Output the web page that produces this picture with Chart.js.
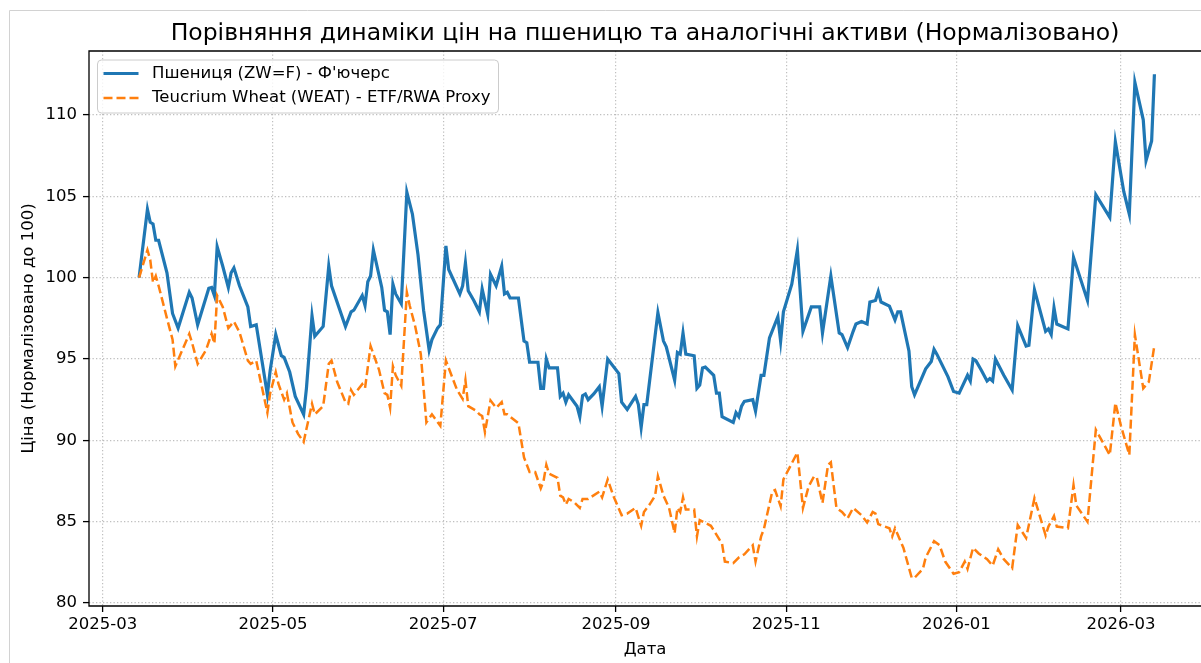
<!DOCTYPE html>
<html>
<head>
<meta charset="utf-8">
<title>Пшениця vs WEAT</title>
<script src="https://cdn.jsdelivr.net/npm/chart.js@4.4.0/dist/chart.umd.min.js"></script>
<style>
  html, body { margin: 0; padding: 0; background: #fff; overflow: hidden; }
  canvas { display: block; }
</style>
</head>
<body>
<canvas id="chart" width="1201" height="663"></canvas>
<script>
// wheat futures (ZW=F), normalised to 100
var wheatDates = [
  '2025-03-14','2025-03-17','2025-03-18','2025-03-19','2025-03-20','2025-03-21','2025-03-24','2025-03-26','2025-03-28',
  '2025-04-01','2025-04-02','2025-04-04','2025-04-08','2025-04-09','2025-04-10','2025-04-11','2025-04-13','2025-04-15',
  '2025-04-16','2025-04-17','2025-04-19','2025-04-22','2025-04-23','2025-04-25','2025-04-29','2025-04-30',
  '2025-05-02','2025-05-04','2025-05-05','2025-05-07','2025-05-09','2025-05-12','2025-05-13','2025-05-15','2025-05-16',
  '2025-05-19','2025-05-21','2025-05-22','2025-05-27','2025-05-29','2025-05-30',
  '2025-06-02','2025-06-03','2025-06-04','2025-06-05','2025-06-06','2025-06-09','2025-06-10','2025-06-11','2025-06-12',
  '2025-06-13','2025-06-14','2025-06-16','2025-06-18','2025-06-20','2025-06-22','2025-06-24','2025-06-26','2025-06-27',
  '2025-06-29','2025-06-30',
  '2025-07-02','2025-07-03','2025-07-07','2025-07-08','2025-07-09','2025-07-10','2025-07-12','2025-07-14','2025-07-15',
  '2025-07-17','2025-07-18','2025-07-20','2025-07-22','2025-07-23','2025-07-24','2025-07-25','2025-07-28','2025-07-30',
  '2025-07-31',
  '2025-08-01','2025-08-04','2025-08-05','2025-08-06','2025-08-07','2025-08-08','2025-08-11','2025-08-12','2025-08-13',
  '2025-08-14','2025-08-15','2025-08-18','2025-08-19','2025-08-20','2025-08-21','2025-08-22','2025-08-24','2025-08-26',
  '2025-08-27','2025-08-29',
  '2025-09-02','2025-09-03','2025-09-05','2025-09-08','2025-09-09','2025-09-10','2025-09-11','2025-09-12','2025-09-16',
  '2025-09-18','2025-09-19','2025-09-22','2025-09-23','2025-09-24','2025-09-25','2025-09-26','2025-09-29','2025-09-30',
  '2025-10-01','2025-10-02','2025-10-03','2025-10-06','2025-10-07','2025-10-08','2025-10-09','2025-10-13','2025-10-14',
  '2025-10-15','2025-10-16','2025-10-17','2025-10-20','2025-10-21','2025-10-23','2025-10-24','2025-10-26','2025-10-29',
  '2025-10-30','2025-10-31',
  '2025-11-03','2025-11-05','2025-11-07','2025-11-10','2025-11-13','2025-11-14','2025-11-17','2025-11-20','2025-11-21',
  '2025-11-23','2025-11-25','2025-11-26','2025-11-28','2025-11-30',
  '2025-12-01','2025-12-03','2025-12-04','2025-12-05','2025-12-08','2025-12-10','2025-12-11','2025-12-12','2025-12-15',
  '2025-12-16','2025-12-17','2025-12-21','2025-12-23','2025-12-24','2025-12-25','2025-12-29','2025-12-31',
  '2026-01-02','2026-01-05','2026-01-06','2026-01-07','2026-01-08','2026-01-10','2026-01-12','2026-01-13','2026-01-14',
  '2026-01-15','2026-01-18','2026-01-21','2026-01-23','2026-01-26','2026-01-27','2026-01-29',
  '2026-02-02','2026-02-03','2026-02-04','2026-02-05','2026-02-06','2026-02-10','2026-02-12','2026-02-17','2026-02-20',
  '2026-02-25','2026-02-27',
  '2026-03-02','2026-03-04','2026-03-06','2026-03-09','2026-03-10','2026-03-12','2026-03-13'
];
var wheatValues = [
  100.0, 104.2, 103.4, 103.3, 102.3, 102.3, 100.3, 97.8, 96.9,
  99.1, 98.75, 97.1, 99.35, 99.4, 98.9, 101.9, 100.7, 99.4,
  100.3, 100.6, 99.5, 98.2, 97.0, 97.1, 92.8, 94.3,
  96.5, 95.2, 95.1, 94.2, 92.7, 91.6, 93.2, 97.65, 96.4,
  97.0, 100.7, 99.5, 97.0, 97.9, 98.0,
  98.9, 98.3, 99.75, 100.1, 101.7, 99.4, 98.0, 97.9, 96.5,
  99.6, 99.0, 98.4, 105.25, 103.9, 101.4, 98.0, 95.55, 96.2,
  96.9, 97.1,
  101.95, 100.5, 99.0, 99.5, 100.9, 99.2, 98.6, 97.9, 99.3,
  97.75, 100.2, 99.5, 100.7, 99.0, 99.1, 98.75, 98.75, 96.1,
  96.0,
  94.8, 94.8, 93.2, 93.2, 95.0, 94.45, 94.45, 92.7, 92.9,
  92.35, 92.8, 92.1, 91.45, 92.75, 92.85, 92.5, 92.85, 93.3,
  92.1, 95.0,
  94.1, 92.35, 91.9, 92.7, 92.2, 90.8, 92.2, 92.2, 97.85,
  96.1, 95.75, 93.7, 95.4, 95.3, 96.6, 95.3, 95.2, 93.2,
  93.4, 94.45, 94.5, 94.0, 92.9, 92.9, 91.45, 91.1, 91.7,
  91.45, 92.1, 92.4, 92.5, 91.8, 94.0, 94.0, 96.3, 97.6,
  96.1, 97.9,
  99.6, 101.7, 96.7, 98.2, 98.2, 96.6, 100.1, 96.6, 96.5,
  95.7, 96.7, 97.15, 97.3, 97.15,
  98.5, 98.6, 99.15, 98.5, 98.25, 97.4, 97.9, 97.9, 95.5,
  93.3, 92.8, 94.4, 94.85, 95.6, 95.3, 93.9, 93.0,
  92.9, 94.0, 93.65, 95.0, 94.9, 94.3, 93.65, 93.8, 93.65,
  95.0, 94.0, 93.1, 97.05, 95.8, 95.85, 99.25,
  96.7, 96.85, 96.5, 98.15, 97.15, 96.85, 101.25, 98.6, 105.1,
  103.7, 108.35,
  105.3, 103.9, 112.0, 109.7, 107.2, 108.4, 112.5
];

// Teucrium Wheat ETF (WEAT), normalised to 100
var weatDates = [
  '2025-03-14','2025-03-17','2025-03-18','2025-03-19','2025-03-20','2025-03-21','2025-03-24','2025-03-26','2025-03-27',
  '2025-04-01','2025-04-02','2025-04-04','2025-04-07','2025-04-09','2025-04-10','2025-04-11','2025-04-13','2025-04-15',
  '2025-04-17','2025-04-19','2025-04-22','2025-04-23','2025-04-25','2025-04-29','2025-04-30',
  '2025-05-02','2025-05-03','2025-05-05','2025-05-06','2025-05-08','2025-05-10','2025-05-12','2025-05-13','2025-05-15',
  '2025-05-16','2025-05-19','2025-05-21','2025-05-22','2025-05-24','2025-05-27','2025-05-28','2025-05-29','2025-05-30',
  '2025-06-02','2025-06-03','2025-06-05','2025-06-08','2025-06-10','2025-06-11','2025-06-12','2025-06-13','2025-06-14',
  '2025-06-16','2025-06-18','2025-06-19','2025-06-21','2025-06-23','2025-06-25','2025-06-27','2025-06-30',
  '2025-07-02','2025-07-03','2025-07-06','2025-07-08','2025-07-09','2025-07-10','2025-07-13','2025-07-14','2025-07-15',
  '2025-07-16','2025-07-18','2025-07-20','2025-07-22','2025-07-23','2025-07-24','2025-07-28','2025-07-30',
  '2025-08-01','2025-08-03','2025-08-05','2025-08-06','2025-08-07','2025-08-08','2025-08-11','2025-08-12','2025-08-13',
  '2025-08-14','2025-08-15','2025-08-17','2025-08-19','2025-08-20','2025-08-22','2025-08-26','2025-08-27','2025-08-29',
  '2025-08-31',
  '2025-09-03','2025-09-05','2025-09-08','2025-09-10','2025-09-11','2025-09-13','2025-09-15','2025-09-16','2025-09-18',
  '2025-09-20','2025-09-22','2025-09-23','2025-09-24','2025-09-25','2025-09-26','2025-09-29','2025-09-30',
  '2025-10-01','2025-10-05','2025-10-09','2025-10-10','2025-10-13','2025-10-15','2025-10-17','2025-10-20','2025-10-21',
  '2025-10-23','2025-10-24','2025-10-27','2025-10-28','2025-10-30','2025-10-31',
  '2025-11-05','2025-11-07','2025-11-09','2025-11-11','2025-11-12','2025-11-14','2025-11-16','2025-11-17','2025-11-19',
  '2025-11-21','2025-11-23','2025-11-25','2025-11-28','2025-11-30',
  '2025-12-02','2025-12-03','2025-12-04','2025-12-08','2025-12-09','2025-12-10','2025-12-13','2025-12-16','2025-12-17',
  '2025-12-20','2025-12-21','2025-12-24','2025-12-26','2025-12-28','2025-12-31',
  '2026-01-02','2026-01-04','2026-01-05','2026-01-07','2026-01-09','2026-01-12','2026-01-14','2026-01-16','2026-01-18',
  '2026-01-21','2026-01-23','2026-01-26','2026-01-29',
  '2026-02-02','2026-02-03','2026-02-05','2026-02-06','2026-02-10','2026-02-12','2026-02-13','2026-02-17','2026-02-20',
  '2026-02-25','2026-02-27',
  '2026-03-01','2026-03-04','2026-03-06','2026-03-09','2026-03-11','2026-03-13'
];
var weatValues = [
  100.0, 101.7, 101.1, 99.7, 100.1, 99.5, 97.5, 96.2, 94.55,
  96.55, 96.0, 94.7, 95.55, 96.55, 95.95, 98.9, 98.2, 96.9,
  97.3, 96.65, 94.9, 94.7, 94.9, 91.7, 92.9,
  94.2, 93.45, 92.5, 92.9, 91.1, 90.4, 89.9, 90.7, 92.25,
  91.6, 92.1, 94.7, 94.9, 93.6, 92.35, 92.25, 93.1, 92.8,
  93.45, 93.2, 95.8, 94.35, 92.9, 92.8, 92.0, 94.55, 94.0,
  93.35, 99.1, 98.3, 97.0, 95.3, 91.1, 91.6, 90.9,
  94.9, 94.45, 93.1, 92.55, 93.7, 92.1, 91.8, 91.6, 91.5,
  90.5, 92.45, 92.0, 92.35, 91.6, 91.6, 91.05, 88.95,
  88.05, 88.05, 87.05, 87.5, 88.5, 87.95, 87.7, 86.6, 86.5,
  86.05, 86.4, 86.2, 85.85, 86.4, 86.4, 86.85, 86.5, 87.6,
  86.6,
  85.4, 85.5, 85.85, 84.75, 85.6, 86.05, 86.6, 87.8, 86.6,
  85.85, 84.3, 85.85, 85.6, 86.5, 85.75, 85.75, 84.1,
  85.1, 84.75, 83.65, 82.55, 82.45, 82.8, 83.0, 83.55, 82.55,
  84.1, 84.55, 86.85, 86.95, 85.95, 87.6,
  89.25, 85.85, 87.15, 87.8, 87.7, 86.15, 88.5, 88.65, 85.85,
  85.6, 85.2, 85.85, 85.4, 84.95,
  85.6, 85.5, 84.85, 84.6, 84.1, 84.6, 83.4, 81.55, 81.55,
  82.1, 82.8, 83.8, 83.55, 82.55, 81.8,
  81.9, 82.55, 82.1, 83.4, 83.05, 82.7, 82.3, 83.3, 82.7,
  82.15, 84.8, 84.0, 86.45,
  84.15, 84.7, 85.35, 84.7, 84.6, 87.25, 86.0, 85.0, 90.65,
  89.1, 92.3,
  90.9, 89.1, 96.5, 93.2, 93.6, 95.85
];

var monthTicks = ['2025-03', '2025-05', '2025-07', '2025-09', '2025-11', '2026-01', '2026-03'];
var priceTicks = [80, 85, 90, 95, 100, 105, 110];

var DAY = 86400000;
var FONT = "'DejaVu Sans', 'Liberation Sans', sans-serif";

function toPoints(dates, values) {
  return dates.map(function (d, i) {
    return { x: Date.parse(d), y: values[i] };
  });
}

// notebook frame, axes spines and the in-plot legend (matplotlib look)
var mplLook = {
  id: 'mplLook',
  beforeDraw: function (chart) {
    var ctx = chart.ctx;
    ctx.save();
    ctx.fillStyle = '#fff';
    ctx.fillRect(0, 0, chart.width, chart.height);
    ctx.strokeStyle = '#d2d2d2';
    ctx.lineWidth = 1;
    ctx.beginPath();
    ctx.moveTo(9.5, chart.height);
    ctx.lineTo(9.5, 10.5);
    ctx.lineTo(chart.width, 10.5);
    ctx.stroke();
    ctx.restore();
  },
  afterDatasetsDraw: function (chart) {
    var a = chart.chartArea, ctx = chart.ctx;
    ctx.save();
    ctx.strokeStyle = '#000';
    ctx.lineWidth = 1.3;
    ctx.beginPath();
    ctx.moveTo(chart.width + 5, a.top);
    ctx.lineTo(a.left, a.top);
    ctx.lineTo(a.left, a.bottom);
    ctx.lineTo(chart.width + 5, a.bottom);
    ctx.stroke();
    ctx.restore();
  },
  afterDraw: function (chart) {
    var ctx = chart.ctx;
    var x = 97.5, y = 60, w = 401, h = 53, r = 4;
    ctx.save();
    ctx.beginPath();
    ctx.moveTo(x + r, y);
    ctx.lineTo(x + w - r, y);
    ctx.arcTo(x + w, y, x + w, y + r, r);
    ctx.lineTo(x + w, y + h - r);
    ctx.arcTo(x + w, y + h, x + w - r, y + h, r);
    ctx.lineTo(x + r, y + h);
    ctx.arcTo(x, y + h, x, y + h - r, r);
    ctx.lineTo(x, y + r);
    ctx.arcTo(x, y, x + r, y, r);
    ctx.closePath();
    ctx.fillStyle = 'rgba(255,255,255,0.8)';
    ctx.fill();
    ctx.strokeStyle = '#cccccc';
    ctx.lineWidth = 1;
    ctx.stroke();

    ctx.font = '16.5px ' + FONT;
    ctx.textBaseline = 'middle';
    ctx.fillStyle = '#000';
    chart.data.datasets.forEach(function (ds, i) {
      var rowY = 73.5 + i * 24.5;
      ctx.save();
      ctx.strokeStyle = ds.borderColor;
      ctx.lineWidth = ds.borderWidth;
      ctx.setLineDash(ds.borderDash || []);
      ctx.beginPath();
      ctx.moveTo(103.5, rowY);
      ctx.lineTo(138.5, rowY);
      ctx.stroke();
      ctx.restore();
      ctx.fillText(ds.label, 152, rowY);
    });
    ctx.restore();
  }
};

Chart.defaults.font.family = FONT;
Chart.defaults.color = '#000';

var gridStyle = {
  color: 'rgba(170,170,170,0.75)',
  lineWidth: 1.2,
  drawTicks: true,
  tickLength: 6,
  tickColor: '#000',
  tickWidth: 1.3
};

new Chart(document.getElementById('chart'), {
  type: 'line',
  data: {
    datasets: [
      {
        label: 'Пшениця (ZW=F) - Ф\'ючерс',
        data: toPoints(wheatDates, wheatValues),
        borderColor: '#1f77b4',
        borderWidth: 3.2,
        pointRadius: 0,
        tension: 0,
        order: 1
      },
      {
        label: 'Teucrium Wheat (WEAT) - ETF/RWA Proxy',
        data: toPoints(weatDates, weatValues),
        borderColor: '#ff7f0e',
        borderWidth: 2.5,
        borderDash: [9, 4],
        pointRadius: 0,
        tension: 0,
        order: 0
      }
    ]
  },
  options: {
    responsive: false,
    animation: false,
    devicePixelRatio: 1,
    layout: { padding: 0 },
    plugins: {
      legend: { display: false },
      tooltip: { enabled: false },
      title: {
        display: true,
        fullSize: false,
        text: 'Порівняння динаміки цін на пшеницю та аналогічні активи (Нормалізовано)',
        font: { size: 23.5, weight: 'normal' },
        color: '#000',
        padding: { top: 19.4, bottom: 3.4 }
      }
    },
    scales: {
      x: {
        type: 'linear',
        bounds: 'data',
        min: Date.parse('2025-03-01') - 4.95 * DAY,
        max: Date.parse('2026-03-01') + 28.7 * DAY,
        grid: gridStyle,
        border: { display: false, dash: [1.3, 2.2] },
        ticks: {
          autoSkip: false,
          maxRotation: 0,
          padding: 3,
          font: { size: 16.5 },
          callback: function (v) { return new Date(v).toISOString().slice(0, 7); }
        },
        afterBuildTicks: function (scale) {
          scale.ticks = monthTicks.map(function (m) { return { value: Date.parse(m + '-01') }; });
        },
        afterFit: function (scale) { scale.height = 57; },
        title: {
          display: true,
          text: 'Дата',
          font: { size: 16.5 },
          padding: { top: 0, bottom: 3.4 }
        }
      },
      y: {
        type: 'linear',
        bounds: 'data',
        min: 79.82,
        max: 113.93,
        grid: gridStyle,
        border: { display: false, dash: [1.3, 2.2] },
        ticks: {
          padding: 6,
          font: { size: 16.5 }
        },
        afterBuildTicks: function (scale) {
          scale.ticks = priceTicks.map(function (v) { return { value: v }; });
        },
        afterFit: function (scale) { scale.width = 89; },
        title: {
          display: true,
          text: 'Ціна (Нормалізовано до 100)',
          font: { size: 16.5 },
          padding: { top: 18.4, bottom: 0 }
        }
      }
    }
  },
  plugins: [mplLook]
});
</script>
</body>
</html>
